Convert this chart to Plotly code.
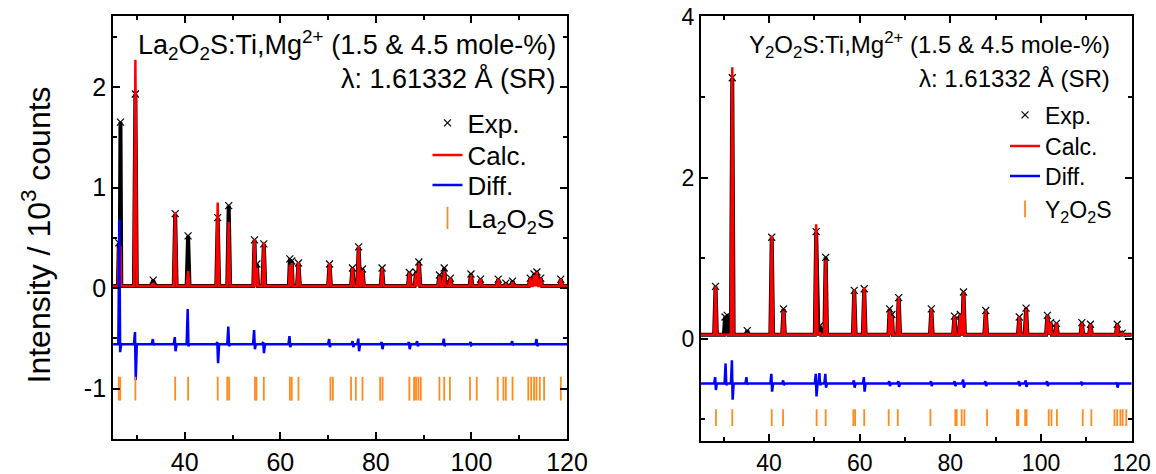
import plotly.graph_objects as go

# ---------------- La2O2S:Ti,Mg (left panel) ----------------
la_pos = [26.2, 26.55, 29.67, 33.4, 38.0, 40.7, 46.9, 49.2, 54.6, 55.1, 56.55,
          62.0, 62.4, 63.8, 70.3, 75.1, 76.4, 77.2, 81.3, 87.0, 88.4, 89.0,
          93.3, 94.3, 95.6, 99.9, 101.9, 105.6, 107.2, 108.6, 112.3, 113.1,
          113.7, 114.5, 118.7]
la_obs = [0.45, 1.65, 1.93, 0.08, 0.74, 0.52, 0.70, 0.82, 0.48, 0.24, 0.44,
          0.29, 0.27, 0.25, 0.24, 0.20, 0.41, 0.19, 0.20, 0.155, 0.16, 0.26,
          0.13, 0.20, 0.10, 0.14, 0.09, 0.09, 0.05, 0.07, 0.10, 0.14,
          0.16, 0.10, 0.09]
la_calc = [0.40, 0.42, 2.27, 0.05, 0.757, 0.17, 0.85, 0.66, 0.485, 0.20, 0.455,
           0.23, 0.25, 0.26, 0.25, 0.20, 0.42, 0.18, 0.20, 0.155, 0.15, 0.25,
           0.12, 0.17, 0.10, 0.13, 0.09, 0.09, 0.04, 0.06, 0.10, 0.13,
           0.16, 0.10, 0.09]
la_bg = 0.02
la_diff_pos = [26.4, 29.67, 33.4, 38.0, 40.7, 46.9, 49.2, 54.6, 56.5, 62.0, 70.3,
               75.2, 76.4, 81.3, 87.0, 88.7, 94.3, 99.9, 108.6, 113.7]
la_diff_up = [1.24, 0.12, 0.05, 0.07, 0.35, 0.02, 0.175, 0.14, 0.02, 0.08, 0.05,
              0.03, 0.055, 0.02, 0.02, 0.03, 0.055, 0.02, 0.03, 0.05]
la_diff_dn = [-0.08, -0.355, -0.01, -0.07, -0.02, -0.19, -0.02, -0.05, -0.09, -0.03, -0.03,
              -0.03, -0.07, -0.05, -0.05, -0.02, -0.02, -0.01, -0.01, -0.02]
la_diff_off = -0.557
la_bragg = [26.2, 26.5, 29.67, 38.0, 40.7, 46.9, 48.9, 49.3, 54.7, 55.0, 56.55,
            62.0, 62.4, 63.8, 70.5, 71.0, 74.8, 75.8, 77.2, 80.9, 81.4,
            87.0, 88.0, 88.4, 88.9, 89.4, 93.3, 94.3, 95.5, 99.7, 101.1,
            105.5, 106.7, 107.2, 108.6, 111.9, 112.5, 113.1, 113.6, 114.3, 115.2, 118.7]
la_bragg_y = -1.0

# ---------------- Y2O2S:Ti,Mg (right panel) ----------------
y_pos = [28.2, 30.3, 30.8, 31.9, 35.2, 40.6, 43.2, 50.4, 51.2, 52.5, 58.8, 61.0,
         66.6, 67.1, 68.6, 75.8, 80.9, 82.2, 82.9, 87.8, 95.2, 96.7, 101.4,
         102.1, 103.4, 109.0, 110.9, 116.8, 117.9]
y_obs = [0.65, 0.27, 0.29, 3.24, 0.10, 1.26, 0.37, 1.33, 0.16, 1.01, 0.60, 0.62,
         0.37, 0.30, 0.51, 0.37, 0.28, 0.30, 0.58, 0.35, 0.27, 0.38, 0.29,
         0.20, 0.19, 0.20, 0.18, 0.18, 0.07]
y_calc = [0.65, 0.05, 0.05, 3.37, 0.06, 1.28, 0.35, 1.42, 0.08, 0.98, 0.60, 0.64,
          0.35, 0.28, 0.515, 0.37, 0.28, 0.30, 0.58, 0.35, 0.27, 0.37, 0.29,
          0.20, 0.19, 0.20, 0.18, 0.18, 0.07]
y_bg = 0.05
y_diff_pos = [28.2, 30.5, 31.9, 35.1, 40.6, 43.2, 50.4, 51.2, 52.5, 58.8, 61.0,
              66.6, 68.6, 75.8, 81.0, 82.9, 87.8, 95.2, 96.7, 101.4, 109.0, 116.8]
y_diff_up = [0.08, 0.25, 0.29, 0.08, 0.12, 0.04, 0.12, 0.13, 0.12, 0.04, 0.08,
             0.03, 0.03, 0.03, 0.03, 0.05, 0.03, 0.03, 0.04, 0.03, 0.02, 0.01]
y_diff_dn = [-0.08, -0.02, -0.20, -0.01, -0.10, -0.02, -0.16, -0.02, -0.05, -0.05, -0.10,
             -0.03, -0.04, -0.03, -0.03, -0.05, -0.03, -0.03, -0.04, -0.03, -0.01, -0.05]
y_diff_off = -0.557
y_bragg = [28.3, 31.9, 40.6, 43.1, 50.5, 52.5, 58.6, 59.0, 61.0, 66.4, 68.4,
           75.6, 81.1, 81.4, 82.5, 83.1, 88.1, 94.7, 95.0, 96.5, 96.8,
           101.7, 102.3, 103.5, 109.2, 111.1, 116.2, 116.8, 117.5, 118.0, 118.8]
y_bragg_y = -0.98

X_MIN, X_MAX = 25, 120
FONT = "Liberation Sans, Arial, sans-serif"
ORANGE = "#FF8A1E"


def peak_profile(pos, heights, bg):
    # narrow peaks joined by a flat background
    xs, ys = [X_MIN], [bg]
    for i, (p, h) in enumerate(zip(pos, heights)):
        w = 0.3
        if i > 0:
            w = min(w, (p - pos[i - 1]) / 2)
        if i < len(pos) - 1:
            w = min(w, (pos[i + 1] - p) / 2)
        xs += [p - w, p, p + w]
        ys += [bg, h, bg]
    xs.append(X_MAX)
    ys.append(bg)
    return xs, ys


def diff_profile(pos, up, dn, off):
    xs, ys = [X_MIN], [off]
    for p, u, d in zip(pos, up, dn):
        xs += [p - 0.3, p - 0.08, p + 0.08, p + 0.3]
        ys += [off, off + u, off + d, off]
    xs.append(X_MAX)
    ys.append(off)
    return xs, ys


def add_panel(fig, pos, obs, calc, bg, dpos, dup, ddn, doff, bragg, bragg_y,
              phase, xa, ya, legends, tick_size):
    ex, ey = peak_profile(pos, obs, bg)
    fig.add_trace(go.Scatter(x=ex, y=ey, mode="lines", line=dict(color="black", width=4),
                             showlegend=False, xaxis=xa, yaxis=ya, hoverinfo="skip"))
    fig.add_trace(go.Scatter(x=pos, y=obs, mode="markers", name="Exp.",
                             marker=dict(symbol="x-thin", size=7, color="black",
                                         line=dict(color="black", width=1.2)),
                             xaxis=xa, yaxis=ya, legend=legends[0]))
    cx, cy = peak_profile(pos, calc, bg)
    fig.add_trace(go.Scatter(x=cx, y=cy, mode="lines", name="Calc.",
                             line=dict(color="#FF0000", width=2.5),
                             xaxis=xa, yaxis=ya, legend=legends[1]))
    dx, dy = diff_profile(dpos, dup, ddn, doff)
    fig.add_trace(go.Scatter(x=dx, y=dy, mode="lines", name="Diff.",
                             line=dict(color="#0000FF", width=2.5),
                             xaxis=xa, yaxis=ya, legend=legends[2]))
    fig.add_trace(go.Scatter(x=bragg, y=[bragg_y] * len(bragg), mode="markers", name=phase,
                             marker=dict(symbol="line-ns", size=tick_size,
                                         line=dict(color=ORANGE, width=1.8)),
                             xaxis=xa, yaxis=ya, legend=legends[3]))


fig = go.Figure()
add_panel(fig, la_pos, la_obs, la_calc, la_bg, la_diff_pos, la_diff_up, la_diff_dn,
          la_diff_off, la_bragg, la_bragg_y, "La<sub>2</sub>O<sub>2</sub>S",
          "x", "y", ["legend", "legend2", "legend3", "legend4"], 17)
add_panel(fig, y_pos, y_obs, y_calc, y_bg, y_diff_pos, y_diff_up, y_diff_dn,
          y_diff_off, y_bragg, y_bragg_y, "Y<sub>2</sub>O<sub>2</sub>S",
          "x2", "y2", ["legend5", "legend6", "legend7", "legend8"], 12)


def axis_style(size):
    return dict(showgrid=False, zeroline=False, showline=True, linecolor="black",
                linewidth=2, mirror="allticks", ticks="inside", ticklen=7,
                tickwidth=1.5, tickcolor="black", automargin=False,
                tickfont=dict(family=FONT, size=size, color="black"))


minor_x = dict(dtick=10, tick0=0, ticks="inside", ticklen=4, tickwidth=1.5, tickcolor="black")

fig.update_layout(
    width=1156, height=474,
    margin=dict(l=0, r=0, t=0, b=0, autoexpand=False),
    paper_bgcolor="white", plot_bgcolor="white",
    font=dict(family=FONT, color="black"),
    xaxis=dict(domain=[0.0978, 0.4905], range=[X_MIN, X_MAX], tickmode="linear",
               tick0=0, dtick=20, minor=minor_x, anchor="y", **axis_style(25)),
    yaxis=dict(domain=[0.0738, 0.9652], range=[-1.5, 2.7], tickmode="array",
               tickvals=[-1, 0, 1, 2], ticktext=["-1", "0", "1", "2"],
               minor=dict(dtick=0.5, tick0=0, ticks="inside", ticklen=4,
                          tickwidth=1.5, tickcolor="black"),
               anchor="x", **axis_style(25)),
    xaxis2=dict(domain=[0.6064, 0.979], range=[X_MIN, X_MAX], tickmode="linear",
                tick0=0, dtick=20, minor=minor_x, anchor="y2", **axis_style(23)),
    yaxis2=dict(domain=[0.0696, 0.9652], range=[-1.27, 4.0], tickmode="array",
                tickvals=[0, 2, 4], ticktext=["0", "2", "4"],
                minor=dict(dtick=1, tick0=0, ticks="inside", ticklen=4,
                           tickwidth=1.5, tickcolor="black"),
                anchor="x2", **axis_style(23)),
)

# one legend box per entry so the spacing can follow the original
legend_rows = [("legend", 0.3698, 123, 26), ("legend2", 0.3698, 155, 26),
               ("legend3", 0.3698, 185, 26), ("legend4", 0.3698, 218, 26),
               ("legend5", 0.8694, 115, 23), ("legend6", 0.8694, 146, 23),
               ("legend7", 0.8694, 176, 23), ("legend8", 0.8694, 209, 23)]
for name, lx, py, fs in legend_rows:
    fig.update_layout({name: dict(x=lx, y=1 - py / 474, xanchor="left", yanchor="middle",
                                  bgcolor="rgba(0,0,0,0)", borderwidth=0,
                                  font=dict(family=FONT, size=fs))})

for xref, yref, xr, phase, fs in [("x domain", "y domain", 0.98, "La<sub>2</sub>O<sub>2</sub>S", 27),
                                  ("x2 domain", "y2 domain", 0.955, "Y<sub>2</sub>O<sub>2</sub>S", 24)]:
    fig.add_annotation(xref=xref, yref=yref, x=xr, y=0.932, xanchor="right", yanchor="middle",
                       text=phase + ":Ti,Mg<sup>2+</sup> (1.5 &amp; 4.5 mole-%)",
                       showarrow=False, font=dict(family=FONT, size=fs, color="black"))
    fig.add_annotation(xref=xref, yref=yref, x=xr, y=0.854, xanchor="right", yanchor="middle",
                       text="λ: 1.61332 Å (SR)", showarrow=False,
                       font=dict(family=FONT, size=fs, color="black"))

fig.add_annotation(xref="paper", yref="paper", x=0.031, y=0.505, textangle=-90,
                   xanchor="center", yanchor="middle",
                   text="Intensity / 10<sup>3</sup> counts", showarrow=False,
                   font=dict(family=FONT, size=32, color="black"))

fig.write_html("out.html", config={"displayModeBar": False},
               post_script="document.body.style.margin='0px';")
